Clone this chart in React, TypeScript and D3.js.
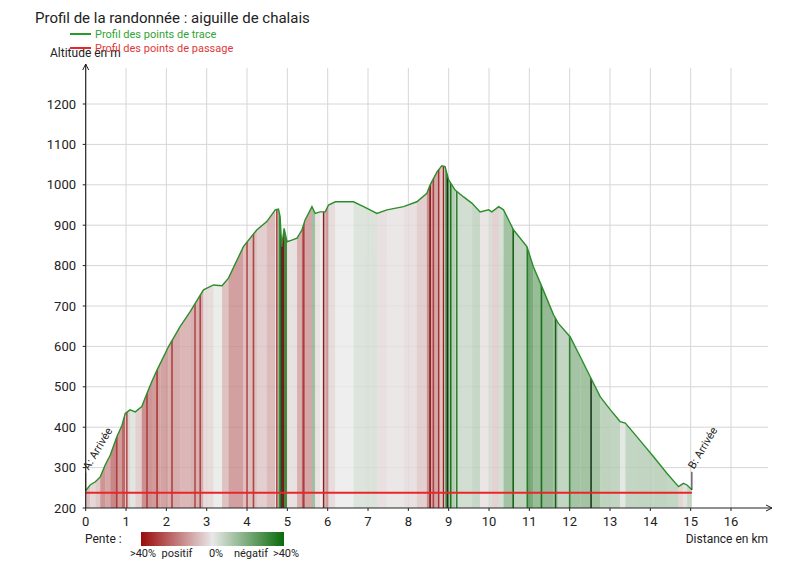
import React from "react";
import * as d3 from "d3";

// ---- Data ----
const profileKm = [
  0, 0.11, 0.24, 0.36, 0.48, 0.61, 0.77, 0.9, 0.98, 1.1, 1.23, 1.39, 1.52, 1.64, 1.77, 1.85,
  2.05, 2.34, 2.59, 2.92, 3.17, 3.38, 3.54, 3.91, 4.24, 4.49, 4.7, 4.78, 4.82, 4.86, 4.92,
  4.99, 5.11, 5.24, 5.36, 5.44, 5.61, 5.69, 5.81, 5.94, 6.02, 6.19, 6.48, 6.64, 6.89, 7.05,
  7.22, 7.47, 7.88, 8.21, 8.46, 8.54, 8.71, 8.83, 8.91, 9.0, 9.16, 9.37, 9.58, 9.78, 9.99,
  10.07, 10.24, 10.36, 10.61, 10.94, 11.1, 11.31, 11.6, 11.72, 12.01, 12.26, 12.51, 12.76,
  13.01, 13.25, 13.38, 13.67, 14.08, 14.41, 14.7, 14.82, 14.91, 15.03,
];
const profileAlt = [
  243, 257, 265, 277, 306, 331, 376, 405, 434, 443, 438, 451, 484, 513, 542, 558,
  599, 649, 686, 740, 752, 750, 769, 847, 888, 909, 938, 940, 921, 847, 892,
  859, 863, 868, 888, 913, 946, 929, 933, 933, 950, 958, 958, 958, 946, 938,
  929, 938, 946, 958, 979, 1000, 1032, 1047, 1045, 1012, 987, 970, 954, 933, 938,
  933, 946, 938, 888, 847, 797, 748, 678, 657, 624, 575, 525, 475,
  443, 414, 410, 376, 327, 286, 253, 261, 257, 245,
];

// narrow steep stripes visible in the reference (km, slope)
const steepKm = [
  0.77, 1.02, 1.52, 1.77, 2.14, 2.71, 2.84, 4.0, 4.16, 4.74, 4.87, 4.9, 5.4, 5.9,
  8.54, 8.62, 8.75, 8.87, 8.97, 9.05, 9.2, 10.6, 10.95, 11.3, 11.65, 12.0, 12.53,
];
const steepSlope = [
  0.4, 0.38, 0.4, 0.42, 0.4, 0.38, 0.4, 0.38, 0.4, 0.42, -0.55, 0.5, 0.4, 0.55,
  0.55, 0.4, 0.45, 0.5, -0.65, -0.5, -0.45, -0.55, -0.45, -0.5, -0.55, -0.45, -0.65,
];

const passageKm = [0, 15.03];
const passageAlt = [238, 238];

const xTicks = d3.range(0, 17);
const yTicks = [200, 300, 400, 500, 600, 700, 800, 900, 1000, 1100, 1200];

const slopeStops = [0.65, 0.5, 0, -0.5, -0.65];
const slopeColors = ["#4a0505", "#9a0a0a", "#ebebeb", "#0a6a0a", "#0f2a0f"];

export default function App() {
  const x = d3.scaleLinear().domain([0, 16]).range([85.7, 731]);
  const y = d3.scaleLinear().domain([200, 1200]).range([508, 104]);
  const color = d3
    .scaleLinear<string>()
    .domain(slopeStops)
    .range(slopeColors)
    .clamp(true);

  const pts = profileKm.map((k, i) => [k, profileAlt[i]] as [number, number]);
  const line = d3
    .line<[number, number]>()
    .x((d) => x(d[0]))
    .y((d) => y(d[1]));
  const area = d3
    .area<[number, number]>()
    .x((d) => x(d[0]))
    .y0(y(200))
    .y1((d) => y(d[1]));

  const segs = pts.slice(0, -1).map((p, i) => {
    const q = pts[i + 1];
    const slope = (q[1] - p[1]) / ((q[0] - p[0]) * 1000);
    return { x0: x(p[0]), x1: x(q[0]), slope };
  });

  const gridTop = 68;
  const gridRight = 768;
  const font = "Roboto, 'Noto Sans', sans-serif";
  const endKm = profileKm[profileKm.length - 1];
  const endAlt = profileAlt[profileAlt.length - 1];

  return (
    <svg
      width={800}
      height={571}
      style={{ position: "absolute", left: 0, top: 0, background: "#fff" }}
      fontFamily={font}
    >
      <defs>
        <clipPath id="underProfile">
          <path d={area(pts) || ""} />
        </clipPath>
        <linearGradient id="penteGrad" x1="0" x2="1" y1="0" y2="0">
          <stop offset="0%" stopColor="#9a0a0a" />
          <stop offset="50%" stopColor="#e8e8e8" />
          <stop offset="100%" stopColor="#0a6a0a" />
        </linearGradient>
      </defs>

      {/* title */}
      <text x={35} y={23} fontSize={15} fill="#222">
        Profil de la randonnée : aiguille de chalais
      </text>

      {/* grid */}
      {xTicks.slice(1).map((t) => (
        <line key={"gx" + t} x1={x(t)} x2={x(t)} y1={gridTop} y2={508} stroke="#d6d6d6" strokeWidth={1} />
      ))}
      {yTicks.slice(1).map((t) => (
        <line key={"gy" + t} x1={x(0)} x2={gridRight} y1={y(t)} y2={y(t)} stroke="#d6d6d6" strokeWidth={1} />
      ))}

      {/* slope stripes */}
      <g clipPath="url(#underProfile)">
        <g opacity={0.82}>
          {segs.map((s, i) => (
            <rect key={"s" + i} x={s.x0} width={Math.max(0.5, s.x1 - s.x0 + 0.3)} y={gridTop} height={508 - gridTop} fill={color(s.slope)} />
          ))}
        </g>
        <g opacity={0.9}>
          {steepKm.map((k, i) => (
            <rect key={"k" + i} x={x(k) - 0.8} width={1.6} y={gridTop} height={508 - gridTop} fill={color(steepSlope[i])} />
          ))}
        </g>
      </g>

      {/* passage profile */}
      <line
        x1={x(passageKm[0])}
        x2={x(passageKm[1])}
        y1={y(passageAlt[0])}
        y2={y(passageAlt[1])}
        stroke="#e8262a"
        strokeWidth={2}
      />

      {/* trace profile */}
      <path d={line(pts) || ""} fill="none" stroke="#2a8f2a" strokeWidth={1.4} />

      {/* axes */}
      <line x1={x(0)} x2={x(0)} y1={64} y2={508} stroke="#222" strokeWidth={1.2} />
      <path d={`M${x(0) - 3},${70} L${x(0)},${64} L${x(0) + 3},${70}`} fill="none" stroke="#222" strokeWidth={1} />
      <line x1={x(0)} x2={772} y1={508} y2={508} stroke="#222" strokeWidth={1.2} />
      <path d={`M${766},${505} L${772},${508} L${766},${511}`} fill="none" stroke="#222" strokeWidth={1} />

      {yTicks.map((t) => (
        <g key={"ty" + t}>
          <line x1={x(0) - 3} x2={x(0)} y1={y(t)} y2={y(t)} stroke="#222" />
          <text x={76} y={y(t) + 4.5} fontSize={13} textAnchor="end" fill="#222">
            {t}
          </text>
        </g>
      ))}
      {xTicks.map((t) => (
        <g key={"tx" + t}>
          <line x1={x(t)} x2={x(t)} y1={508} y2={511} stroke="#222" />
          <text x={x(t)} y={526} fontSize={13} textAnchor="middle" fill="#222">
            {t}
          </text>
        </g>
      ))}

      <text x={50} y={57} fontSize={12} fill="#222">
        Altitude en m
      </text>
      <text x={768} y={543} fontSize={12} textAnchor="end" fill="#222">
        Distance en km
      </text>

      {/* legend */}
      <line x1={70} x2={91} y1={34} y2={34} stroke="#2a9a2a" strokeWidth={2} />
      <text x={95} y={38} fontSize={11} fill="#33a333">
        Profil des points de trace
      </text>
      <line x1={70} x2={91} y1={48} y2={48} stroke="#e8262a" strokeWidth={2} />
      <text x={95} y={52} fontSize={11} fill="#e0383a">
        Profil des points de passage
      </text>

      {/* start / end markers */}
      <line x1={x(0)} x2={x(0)} y1={y(profileAlt[0])} y2={y(profileAlt[0]) - 18} stroke="#222" />
      <text transform={`translate(${x(0) + 3},${y(profileAlt[0]) - 20}) rotate(-59)`} fontSize={11} fill="#222">
        A: Arrivée
      </text>
      <line x1={x(endKm)} x2={x(endKm)} y1={y(endAlt)} y2={y(endAlt) - 18} stroke="#222" />
      <text transform={`translate(${x(endKm) + 2},${y(endAlt) - 20}) rotate(-59)`} fontSize={11} fill="#222">
        B: Arrivée
      </text>

      {/* slope legend */}
      <text x={85} y={543} fontSize={12} fill="#222">
        Pente :
      </text>
      <rect x={141} y={532} width={143} height={14} fill="url(#penteGrad)" />
      <text x={143} y={557} fontSize={11} textAnchor="middle" fill="#222">&gt;40%</text>
      <text x={177} y={557} fontSize={11} textAnchor="middle" fill="#222">positif</text>
      <text x={216} y={557} fontSize={11} textAnchor="middle" fill="#222">0%</text>
      <text x={251} y={557} fontSize={11} textAnchor="middle" fill="#222">négatif</text>
      <text x={286} y={557} fontSize={11} textAnchor="middle" fill="#222">&gt;40%</text>
    </svg>
  );
}
